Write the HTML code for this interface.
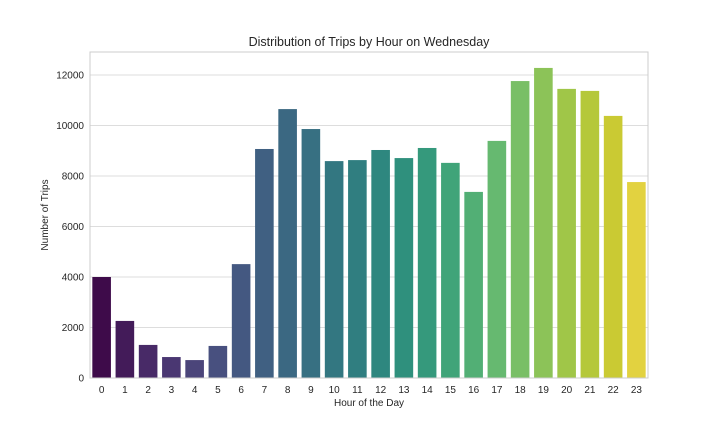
<!DOCTYPE html>
<html><head><meta charset="utf-8"><style>
body{margin:0;background:#fff;}
svg{display:block;font-family:"Liberation Sans","DejaVu Sans",sans-serif;}
</style></head><body>
<svg id="chart" width="720" height="432" xmlns="http://www.w3.org/2000/svg">
<rect x="0" y="0" width="720" height="432" fill="#fff"/>
<g id="grid"></g>
<g id="bars"></g>
<rect x="90" y="52" width="558" height="326" fill="none" stroke="#cccccc" stroke-width="1"/>
<g id="yticks"></g>
<g id="xticks"></g>
<text x="369" y="46" text-anchor="middle" font-size="12.5" fill="#262626">Distribution of Trips by Hour on Wednesday</text>
<text x="369" y="406" text-anchor="middle" font-size="10" fill="#262626">Hour of the Day</text>
<text transform="translate(48,215) rotate(-90)" text-anchor="middle" font-size="10" fill="#262626">Number of Trips</text>
</svg>
<script>
const categories = ["0","1","2","3","4","5","6","7","8","9","10","11","12","13","14","15","16","17","18","19","20","21","22","23"];
const trips = [4000,2260,1310,830,710,1270,4510,9070,10650,9860,8590,8630,9030,8710,9110,8520,7370,9390,11760,12280,11450,11370,10380,7760];
const yTicks = [0,2000,4000,6000,8000,10000,12000];

const NS="http://www.w3.org/2000/svg";
const X0=90,X1=648,Y0=378,YTOP=52;
const yScale=v=>Y0-v*(303/12000);
const slot=(X1-X0)/categories.length;
const xScale=i=>X0+i*slot;

const anchors=["#440154","#471365","#482475","#463480","#414487","#3b528b","#355f8d","#2f6c8e","#2a788e","#25848e","#21918c","#1e9c89","#22a884","#2fb47c","#44bf70","#5ec962","#7ad151","#9bd93c","#bddf26","#dfe318","#fde725"];
function hex2rgb(h){return [1,3,5].map(k=>parseInt(h.substr(k,2),16)/255);}
function viridis(t){const p=t*(anchors.length-1),i=Math.min(Math.floor(p),anchors.length-2),f=p-i;const a=hex2rgb(anchors[i]),b=hex2rgb(anchors[i+1]);return a.map((v,k)=>v+(b[k]-v)*f);}
function desat([r,g,b],s){const mx=Math.max(r,g,b),mn=Math.min(r,g,b),l=(mx+mn)/2;let h=0,sa=0;const d=mx-mn;
 if(d>0){sa=l>0.5?d/(2-mx-mn):d/(mx+mn);if(mx===r)h=((g-b)/d+(g<b?6:0));else if(mx===g)h=(b-r)/d+2;else h=(r-g)/d+4;h/=6;}
 sa*=s;const q=l<0.5?l*(1+sa):l+sa-l*sa,p=2*l-q;
 const hue=t=>{if(t<0)t+=1;if(t>1)t-=1;if(t<1/6)return p+(q-p)*6*t;if(t<1/2)return q;if(t<2/3)return p+(q-p)*(2/3-t)*6;return p;};
 const c=sa===0?[l,l,l]:[hue(h+1/3),hue(h),hue(h-1/3)];
 return "rgb("+c.map(v=>Math.round(v*255)).join(",")+")";}

const grid=document.getElementById('grid'),yt=document.getElementById('yticks');
yTicks.forEach(v=>{const y=yScale(v);
 const l=document.createElementNS(NS,'line');
 
 
 l.setAttribute('x1',X0);l.setAttribute('x2',X1);l.setAttribute('y1',y);l.setAttribute('y2',y);l.setAttribute('stroke','#dddddd');l.setAttribute('stroke-width','1');grid.appendChild(l);
 const t=document.createElementNS(NS,'text');
 
 
 t.setAttribute('x',X0-6);t.setAttribute('y',y+3.5);t.setAttribute('text-anchor','end');t.setAttribute('font-size','10');t.setAttribute('fill','#262626');t.textContent=v;yt.appendChild(t);});

const bars=document.getElementById('bars'),xt=document.getElementById('xticks');
const n=categories.length;
categories.forEach((c,i)=>{const bw=slot*0.8,x=xScale(i)+slot*0.1,y=yScale(trips[i]);
 const r=document.createElementNS(NS,'rect');
 
 
 r.setAttribute('x',x);r.setAttribute('y',y);r.setAttribute('width',bw);r.setAttribute('height',Y0-y);
 r.setAttribute('fill',desat(viridis(i/(n-1)),0.75));bars.appendChild(r);
 const t=document.createElementNS(NS,'text');
 
 
 t.setAttribute('x',xScale(i)+slot/2);t.setAttribute('y',Y0+15);t.setAttribute('text-anchor','middle');t.setAttribute('font-size','10');t.setAttribute('fill','#262626');t.textContent=c;xt.appendChild(t);});
</script>
</body></html>
